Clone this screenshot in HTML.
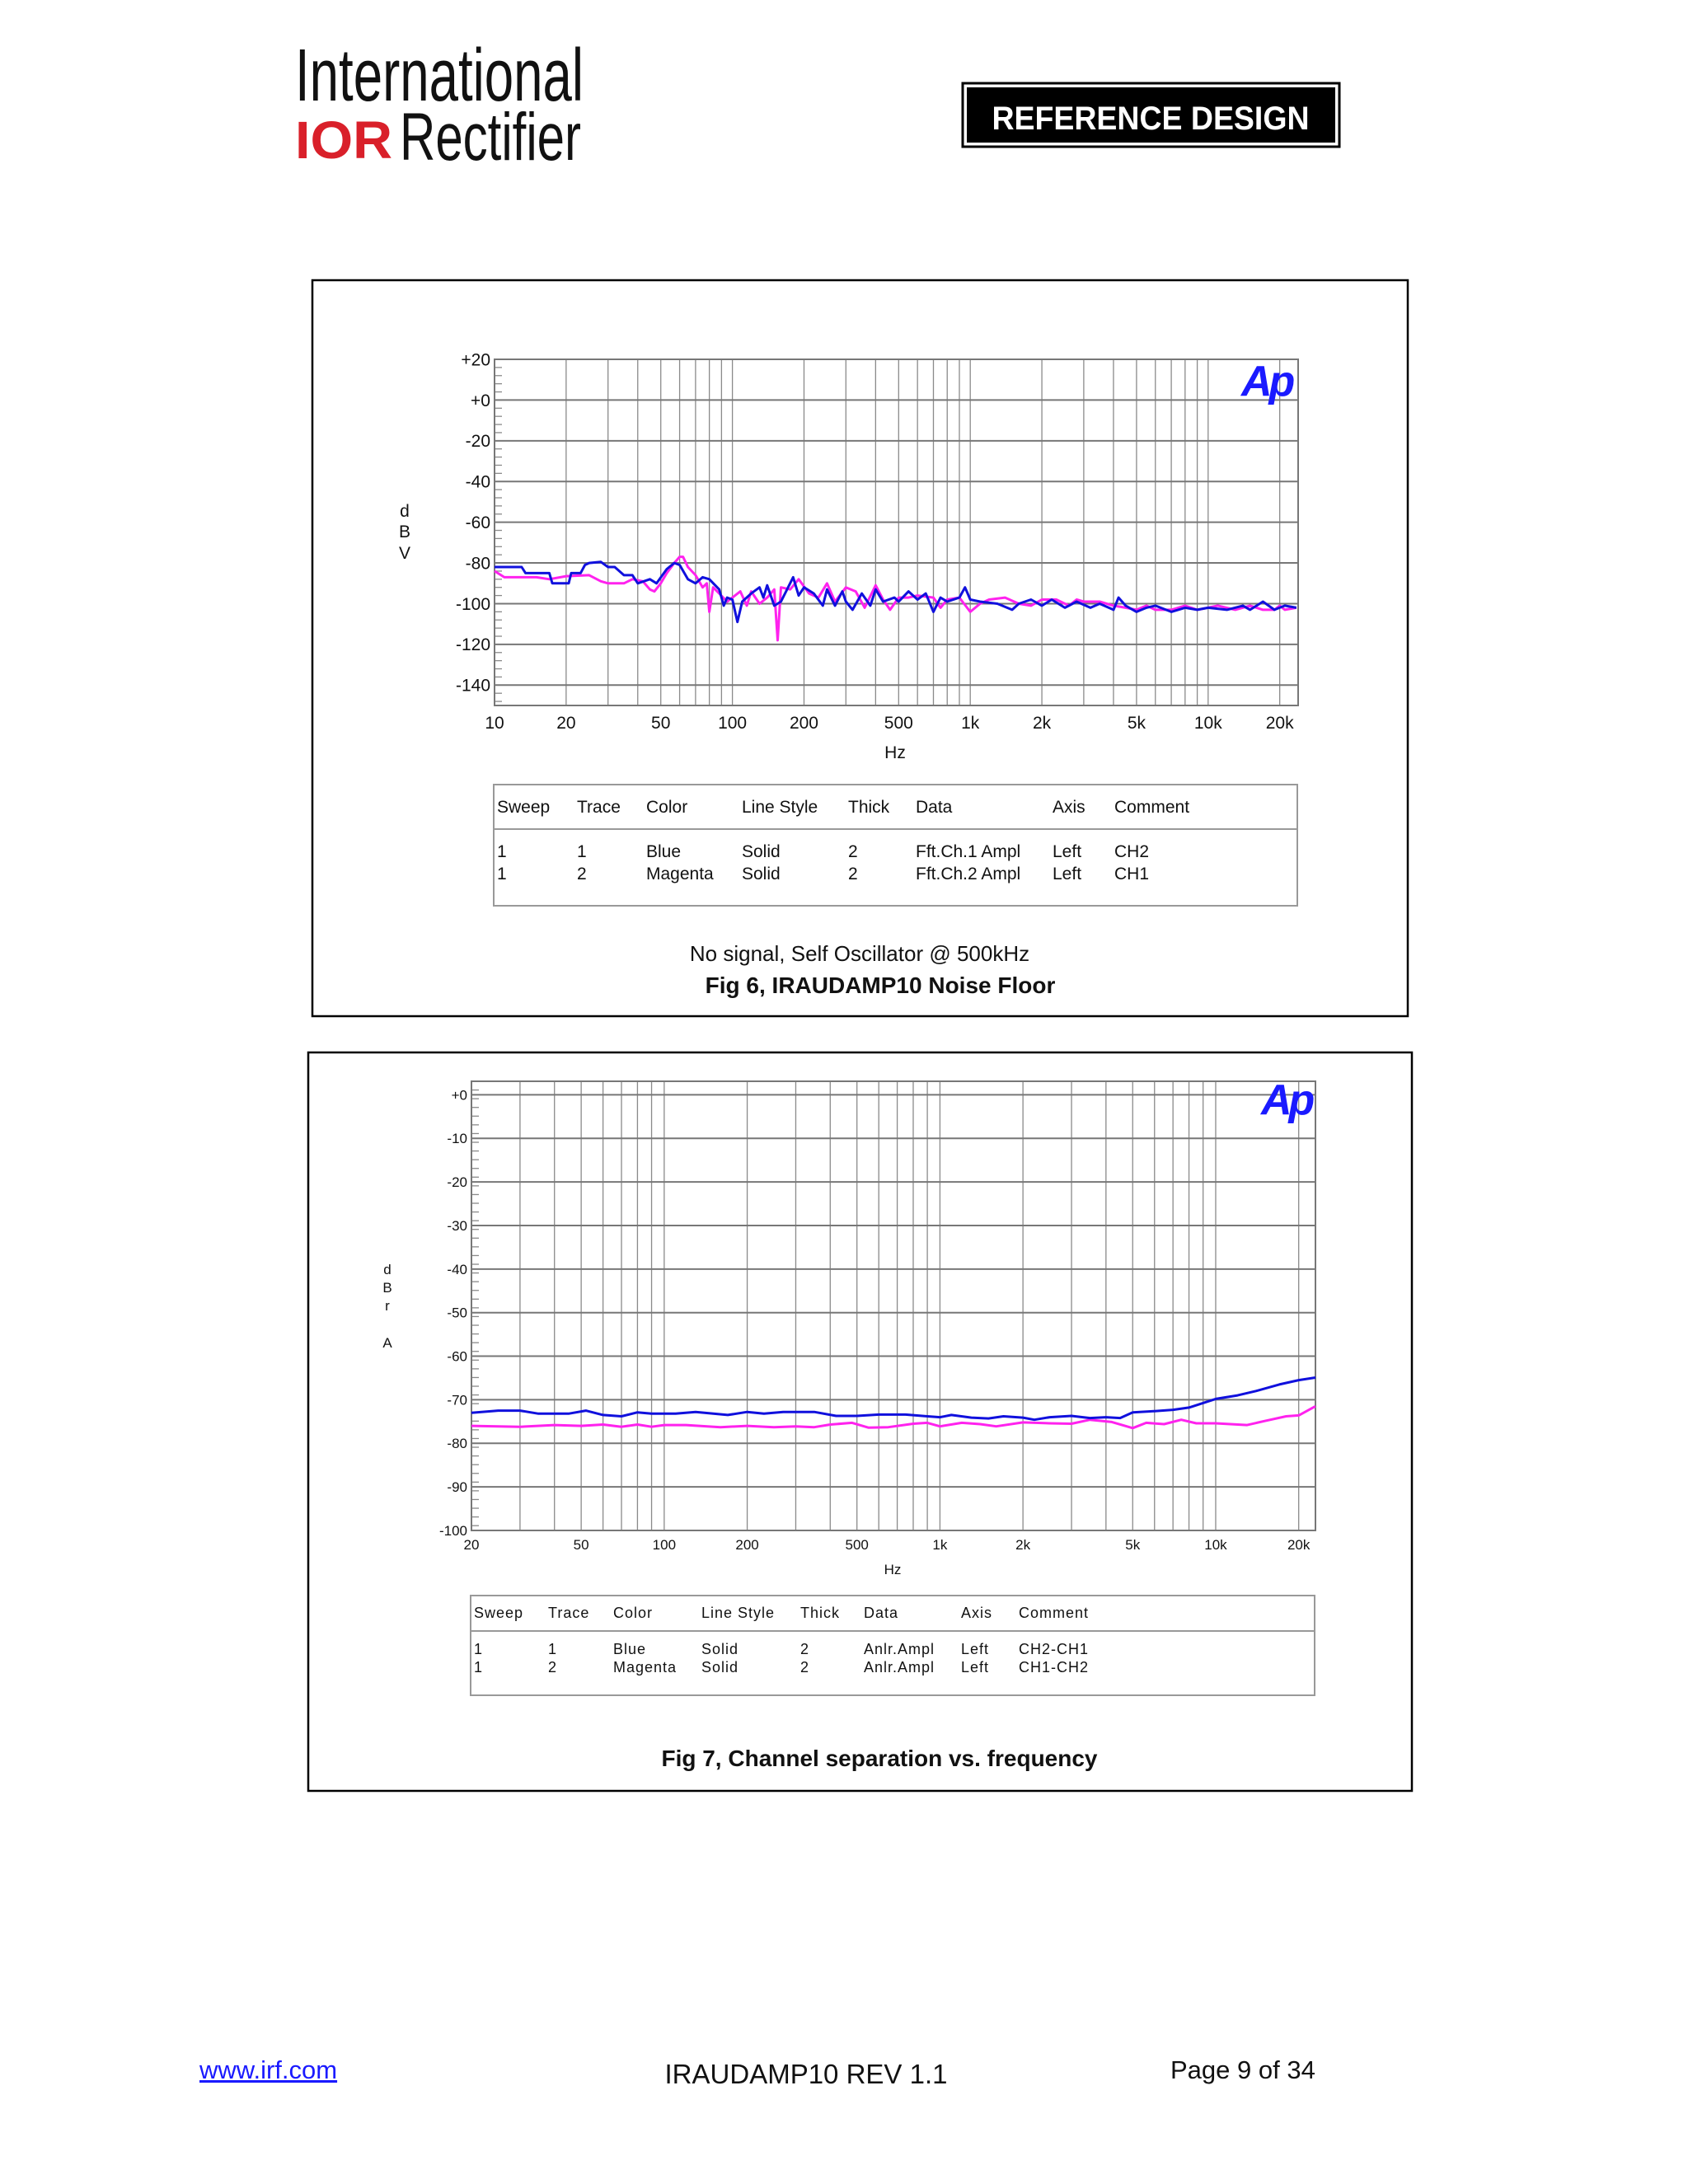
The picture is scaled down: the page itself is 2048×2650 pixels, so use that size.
<!DOCTYPE html>
<html><head><meta charset="utf-8"><style>
html,body{margin:0;padding:0;background:#fff}
svg{display:block}
text{font-family:"Liberation Sans",Arial,sans-serif}
</style></head><body>
<svg id="page" xmlns="http://www.w3.org/2000/svg" width="2048" height="2650" viewBox="0 0 2048 2650">
<rect width="2048" height="2650" fill="#fff"/>
<g>
<text x="358" y="122" font-size="90" textLength="350" lengthAdjust="spacingAndGlyphs" fill="#111" font-weight="300">International</text>
<text x="358" y="192" font-size="64" font-weight="bold" fill="#d9202a" textLength="118" lengthAdjust="spacingAndGlyphs">IOR</text>
<text x="485" y="194" font-size="82" fill="#111" textLength="220" lengthAdjust="spacingAndGlyphs">Rectifier</text>
</g>
<g>
<rect x="1168" y="101" width="457" height="77" fill="#fff" stroke="#000" stroke-width="3"/>
<rect x="1173" y="106" width="447" height="67" fill="#000"/>
<text x="1396" y="157" font-size="40" font-weight="bold" fill="#fff" text-anchor="middle" textLength="385" lengthAdjust="spacingAndGlyphs">REFERENCE DESIGN</text>
</g>
<rect x="379" y="340" width="1329" height="893" fill="none" stroke="#000" stroke-width="2.5"/>
<rect x="374" y="1277" width="1339" height="896" fill="none" stroke="#000" stroke-width="2.5"/>
<g id="c1"></g>
<g id="c2"></g>
<g>
<rect x="599" y="952" width="975" height="147" fill="none" stroke="#999" stroke-width="2"/>
<line x1="599" y1="1006" x2="1574" y2="1006" stroke="#999" stroke-width="2"/>
<g font-size="21" fill="#111">
<text x="603" y="986">Sweep</text><text x="700" y="986">Trace</text><text x="784" y="986">Color</text><text x="900" y="986">Line Style</text><text x="1029" y="986">Thick</text><text x="1111" y="986">Data</text><text x="1277" y="986">Axis</text><text x="1352" y="986">Comment</text>
<text x="603" y="1040">1</text><text x="700" y="1040">1</text><text x="784" y="1040">Blue</text><text x="900" y="1040">Solid</text><text x="1029" y="1040">2</text><text x="1111" y="1040">Fft.Ch.1 Ampl</text><text x="1277" y="1040">Left</text><text x="1352" y="1040">CH2</text>
<text x="603" y="1067">1</text><text x="700" y="1067">2</text><text x="784" y="1067">Magenta</text><text x="900" y="1067">Solid</text><text x="1029" y="1067">2</text><text x="1111" y="1067">Fft.Ch.2 Ampl</text><text x="1277" y="1067">Left</text><text x="1352" y="1067">CH1</text>
</g></g>
<text x="1043" y="1166" font-size="26" text-anchor="middle" fill="#111">No signal, Self Oscillator @ 500kHz</text>
<text x="1068" y="1205" font-size="28" font-weight="bold" text-anchor="middle" fill="#111">Fig 6, IRAUDAMP10 Noise Floor</text>
<g>
<rect x="571" y="1936" width="1024" height="121" fill="none" stroke="#999" stroke-width="2"/>
<line x1="571" y1="1979" x2="1595" y2="1979" stroke="#999" stroke-width="2"/>
<g font-size="18" fill="#111" letter-spacing="1">
<text x="575" y="1963">Sweep</text><text x="665" y="1963">Trace</text><text x="744" y="1963">Color</text><text x="851" y="1963">Line Style</text><text x="971" y="1963">Thick</text><text x="1048" y="1963">Data</text><text x="1166" y="1963">Axis</text><text x="1236" y="1963">Comment</text>
<text x="575" y="2007">1</text><text x="665" y="2007">1</text><text x="744" y="2007">Blue</text><text x="851" y="2007">Solid</text><text x="971" y="2007">2</text><text x="1048" y="2007">Anlr.Ampl</text><text x="1166" y="2007">Left</text><text x="1236" y="2007">CH2-CH1</text>
<text x="575" y="2029">1</text><text x="665" y="2029">2</text><text x="744" y="2029">Magenta</text><text x="851" y="2029">Solid</text><text x="971" y="2029">2</text><text x="1048" y="2029">Anlr.Ampl</text><text x="1166" y="2029">Left</text><text x="1236" y="2029">CH1-CH2</text>
</g></g>
<text x="1067" y="2143" font-size="28" font-weight="bold" text-anchor="middle" fill="#111">Fig 7, Channel separation vs. frequency</text>
<text x="242" y="2522" font-size="31" fill="#1a1aff" text-decoration="underline">www.irf.com</text>
<text x="978" y="2528" font-size="33" text-anchor="middle" fill="#111">IRAUDAMP10 REV 1.1</text>
<text x="1420" y="2522" font-size="31" fill="#111">Page 9 of 34</text>
</svg>
<script>
// Fig 6 noise floor data
const nfBlueFreq=[10,13,13.5,17,17.5,20.5,21,23,24,25,28,30,32,35,38,40,45,48,53,57,60,65,70,75,80,88,92,95,100,105,110,120,130,135,140,150,160,180,190,200,220,240,250,270,290,300,320,350,380,400,430,480,500,550,600,650,700,750,800,900,950,1000,1100,1300,1500,1600,1800,2000,2200,2500,2800,3200,3500,4000,4200,4500,5000,5500,6000,7000,8000,9000,10000,12000,14000,15000,17000,19000,21000,23500];
const nfBlueDb=[-82,-82,-85,-85,-90,-90,-85,-85,-81,-80,-79.5,-82,-82,-86,-86,-90,-88,-90,-83,-80,-81,-88,-90,-87,-88,-93,-101,-97,-98,-109,-99,-95,-92,-97,-91,-101,-99,-87,-96,-92,-95,-101,-93,-101,-94,-99,-103,-95,-101,-93,-99,-97,-99,-94,-98,-95,-104,-97,-99,-97,-92,-98,-99,-100,-103,-100,-98,-101,-98,-102,-99,-102,-100,-103,-97,-101,-104,-102,-101,-104,-102,-103,-102,-103,-101,-103,-99,-103,-101,-102];
const nfMagFreq=[10,11,15,17,20,25,28,30,35,38,42,45,47,50,53,57,60,62,65,70,75,78,80,83,88,95,100,108,115,120,130,140,150,155,160,175,190,210,230,250,270,300,330,360,400,430,460,500,550,600,700,750,800,900,1000,1100,1200,1400,1600,1800,2000,2300,2600,2800,3000,3500,4000,4500,5000,5500,6000,7000,8000,9000,10000,11000,13000,15000,17000,19000,20000,21000,23500];
const nfMagDb=[-84,-87,-87,-88,-86.5,-86,-89,-90,-90,-88,-89,-93,-94,-90,-85,-80,-77,-77,-82,-86,-92,-90,-104,-92,-95,-99,-97,-94,-101,-94,-100,-97,-93,-118,-92,-93,-88,-95,-97,-90,-99,-92,-94,-102,-91,-98,-103,-97,-97,-96,-97,-102,-98,-97,-104,-100,-98,-97,-100,-101,-98,-98,-101,-98,-99,-99,-101,-102,-103,-101,-103,-103,-101,-103,-102,-101,-103,-101,-103,-103,-101,-103,-102];
const nfYTicks=[20,0,-20,-40,-60,-80,-100,-120,-140];
const nfYLabels=["+20","+0","-20","-40","-60","-80","-100","-120","-140"];
const nfXTicks=[10,20,50,100,200,500,1000,2000,5000,10000,20000];
const nfXLabels=["10","20","50","100","200","500","1k","2k","5k","10k","20k"];
// Fig 7 channel separation data
const csBlueFreq=[20,25,30,35,45,52,60,70,80,90,110,130,170,200,230,270,350,420,500,600,750,900,1000,1100,1300,1500,1700,2000,2200,2500,3000,3500,4000,4500,5000,6000,7000,8000,10000,12000,14000,17000,20000,23000];
const csBlueDb=[-73,-72.5,-72.5,-73.2,-73.2,-72.5,-73.5,-73.8,-72.9,-73.2,-73.2,-72.8,-73.5,-72.8,-73.2,-72.8,-72.8,-73.7,-73.7,-73.4,-73.4,-73.8,-74,-73.5,-74.1,-74.3,-73.8,-74.1,-74.6,-74,-73.7,-74.2,-74,-74.2,-72.9,-72.6,-72.3,-71.8,-69.8,-69,-68,-66.5,-65.5,-64.9];
const csMagFreq=[20,30,40,50,60,70,80,90,100,120,160,200,250,300,350,400,480,550,650,800,900,1000,1200,1400,1600,2000,2500,3000,3500,4200,5000,5600,6500,7500,8500,10000,13000,15000,18000,20000,23000];
const csMagDb=[-76,-76.2,-75.8,-76,-75.7,-76.2,-75.7,-76.2,-75.8,-75.8,-76.3,-76,-76.3,-76.1,-76.3,-75.7,-75.3,-76.4,-76.3,-75.5,-75.3,-76.1,-75.3,-75.6,-76.1,-75.2,-75.4,-75.5,-74.6,-75.1,-76.5,-75.3,-75.6,-74.6,-75.4,-75.4,-75.8,-74.9,-73.8,-73.6,-71.5];
const csYTicks=[0,-10,-20,-30,-40,-50,-60,-70,-80,-90,-100];
const csYLabels=["+0","-10","-20","-30","-40","-50","-60","-70","-80","-90","-100"];
const csXTicks=[20,50,100,200,500,1000,2000,5000,10000,20000];
const csXLabels=["20","50","100","200","500","1k","2k","5k","10k","20k"];

const NS="http://www.w3.org/2000/svg";
function mk(parent,tag,attrs){const e=document.createElementNS(NS,tag);for(const k in attrs)e.setAttribute(k,attrs[k]);parent.appendChild(e);return e;}

function drawChart(g,o){
  const xs=f=>o.L+(Math.log10(f)-Math.log10(o.fmin))/(Math.log10(o.fmax)-Math.log10(o.fmin))*(o.R-o.L);
  const ys=d=>o.T+(o.ymax-d)/(o.ymax-o.ymin)*(o.B-o.T);
  // vertical grid
  for(let dec=1;dec<=100000;dec*=10){for(let m=1;m<10;m++){const f=m*dec;if(f<=o.fmin||f>=o.fmax)continue;
    const l=mk(g,'line',{x1:xs(f),x2:xs(f),y1:o.T,y2:o.B,stroke:'#8a8a8a','stroke-width':1.3});
    
    }}
  // minor ticks left
  for(let d=o.ymax;d>=o.ymin;d-=o.minor){const yy=ys(d);
    const t=mk(g,'line',{x1:o.L,x2:o.L+9,y1:yy,y2:yy,stroke:'#8a8a8a','stroke-width':1.3});
    
    }
  // horizontal grid + labels
  o.yTicks.forEach((d,i)=>{const yy=ys(d);
    const l=mk(g,'line',{x1:o.L,x2:o.R,y1:yy,y2:yy,stroke:'#777','stroke-width':2});
    
    
    const t=mk(g,'text',{x:o.L-5,y:yy+o.fs*0.35,'font-size':o.fs,'text-anchor':'end',fill:'#111'});
    t.textContent=o.yLabels[i];
    
    });
  o.xTicks.forEach((f,i)=>{
    const t=mk(g,'text',{x:xs(f),y:o.xLabY,'font-size':o.fs,'text-anchor':'middle',fill:'#111'});
    t.textContent=o.xLabels[i];
    
    });
  const fr=mk(g,'rect',{x:o.L,y:o.T,width:o.R-o.L,height:o.B-o.T,fill:'none',stroke:'#777','stroke-width':2});
  
  
  // series
  [[o.mf,o.md,'#ff22ee','magenta-trace'],[o.bf,o.bd,'#1010dd','blue-trace']].forEach(s=>{
    const pts=s[0].map((f,i)=>xs(f).toFixed(1)+','+ys(s[1][i]).toFixed(1)).join(' ');
    const p=mk(g,'polyline',{points:pts,fill:'none',stroke:s[2],'stroke-width':3,'stroke-linejoin':'round'});
    
    });
  const ap=mk(g,'text',{x:o.apX,y:o.apY,'font-size':52,'font-weight':'bold','font-style':'italic',fill:'#1a1aff','letter-spacing':-4});
  ap.textContent='Ap';
  
  
  const hz=mk(g,'text',{x:o.hzX,y:o.hzY,'font-size':o.fs,'text-anchor':'middle',fill:'#111'});
  hz.textContent='Hz';
  
  
  o.yTitle.forEach((c,i)=>{
    const t=mk(g,'text',{x:o.ytX,y:o.ytY[i],'font-size':o.fs,'text-anchor':'middle',fill:'#111'});
    t.textContent=c;
    
    });
}
drawChart(document.getElementById('c1'),{L:600,R:1575,T:436,B:856,fmin:10,fmax:23900,ymax:20,ymin:-150,minor:4,
  yTicks:nfYTicks,yLabels:nfYLabels,xTicks:nfXTicks,xLabels:nfXLabels,fs:21,xLabY:884,
  bf:nfBlueFreq,bd:nfBlueDb,mf:nfMagFreq,md:nfMagDb,apX:1506,apY:480,hzX:1086,hzY:920,
  yTitle:['d','B','V'],ytX:491,ytY:[627,652,678]});
drawChart(document.getElementById('c2'),{L:572,R:1596,T:1312,B:1857,fmin:20,fmax:23000,ymax:3.1,ymin:-100,minor:2,
  yTicks:csYTicks,yLabels:csYLabels,xTicks:csXTicks,xLabels:csXLabels,fs:17,xLabY:1880,
  bf:csBlueFreq,bd:csBlueDb,mf:csMagFreq,md:csMagDb,apX:1530,apY:1352,hzX:1083,hzY:1910,
  yTitle:['d','B','r','A'],ytX:470,ytY:[1546,1568,1590,1635]});
</script>
</body></html>
